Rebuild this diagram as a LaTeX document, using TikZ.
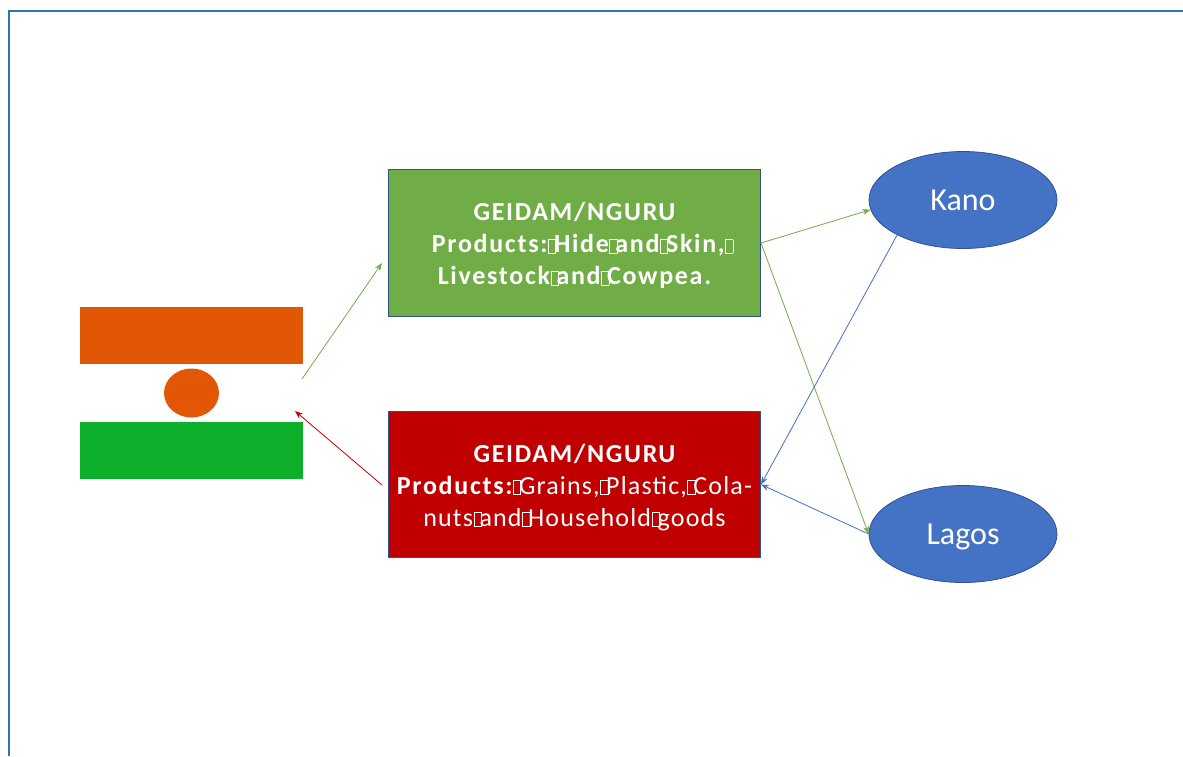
\documentclass[tikz,border=0pt]{standalone}
\usepackage{fontspec}
\setmainfont{Carlito}
\usetikzlibrary{shapes.geometric,arrows.meta}
\newfontface\bsp{Carlito Bold}[LetterSpace=6.5]
\newfontface\rsp{Carlito}[LetterSpace=4.5]
\newcommand\tofu{\kern0.5pt\rlap{\setlength\fboxrule{.9pt}\setlength\fboxsep{0pt}\fbox{\rule{0pt}{13pt}\rule{6.5pt}{0pt}}}\kern6pt}
\newcommand\topgap{\rule{0pt}{24pt}}
\definecolor{frameblue}{HTML}{2E75B6}
\definecolor{edgeblue}{HTML}{2F528F}
\definecolor{fillblue}{HTML}{4472C4}
\definecolor{boxgreen}{HTML}{70AD47}
\definecolor{boxred}{HTML}{C00000}
\definecolor{flagorange}{HTML}{E25706}
\definecolor{flaggreen}{HTML}{0DB02B}
\tikzset{
  x=1pt,y=-1pt,
  infobox/.style={draw=edgeblue,line width=1pt,minimum width=372pt,text=white,align=center,inner sep=0pt,font=\fontsize{26}{32}\selectfont},
  city/.style={ellipse,draw=edgeblue,line width=.8pt,fill=fillblue,text=white,minimum width=188pt,minimum height=97pt,inner sep=0pt,text height=26pt,text depth=6pt,font=\fontsize{32}{38}\selectfont},
  link/.style={line width=.8pt,-{Stealth[length=8pt,width=6pt]}},
  flagband/.style={draw=none,inner sep=0pt,minimum width=223pt,minimum height=57pt},
}
\begin{document}
\begin{tikzpicture}
\useasboundingbox (0,0) rectangle (1183,756);
\draw[frameblue,line width=2pt] (9,756) -- (9,11) -- (1183,11);
% flag
\node[flagband,fill=flagorange] (flagtop) at (191.5,335.5) {};
\node[flagband,fill=flaggreen] (flagbottom) at (191.5,450.5) {};
\node[ellipse,fill=flagorange,draw=none,inner sep=0pt,minimum width=55pt,minimum height=49pt] (sun) at (191.5,393) {};
% boxes
\node[infobox,fill=boxgreen,minimum height=147pt] (up) at (574.5,243) {\topgap{\bsp GEIDAM/NGURU}\\\hspace*{14pt}{\bsp Products:\tofu Hide\tofu and\tofu Skin,\tofu}\\{\bsp Livestock\tofu and\tofu Cowpea.}};
\node[infobox,fill=boxred,minimum height=146pt] (down) at (574.5,484.5) {\topgap{\bsp GEIDAM/NGURU}\\{\bsp Products:}\tofu{\rsp Grains,}\tofu{\rsp Plastic,}\tofu{\rsp Cola-}\\{\rsp nuts\tofu and\tofu Household\tofu goods}};
% cities
\node[city] (kano) at (963,200) {Kano};
\node[city] (lagos) at (963,534) {Lagos};
% free ends
\coordinate (flagout) at (302,379);
\coordinate (flagin) at (295,411);
\coordinate (upin) at (382,263);
\coordinate (downout) at (382,485);
% connectors
\draw[link,boxgreen] (flagout) -- (upin);
\draw[link,boxred] (downout) -- (flagin);
\draw[link,boxgreen] (up.east) -- (kano.186);
\draw[link,boxgreen] (up.east) -- (lagos.west);
\draw[link,fillblue] (kano.208) -- (down.east);
\draw[link,fillblue] (lagos.west) -- (down.east);
\end{tikzpicture}
\end{document}
